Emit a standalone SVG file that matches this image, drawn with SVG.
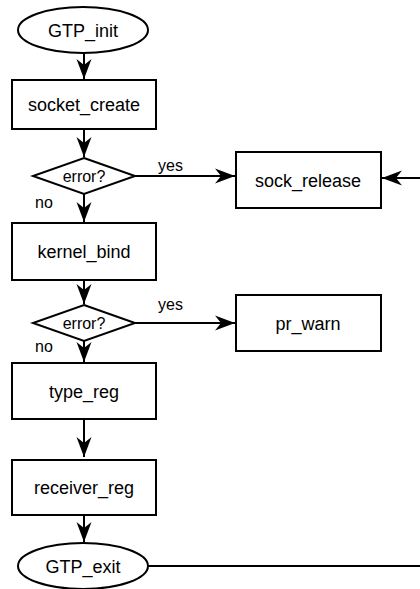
<svg xmlns="http://www.w3.org/2000/svg" width="420" height="589" viewBox="0 0 420 589">
<style>
.n{fill:#fff;stroke:#000;stroke-width:2}
.t{font-family:"Liberation Sans",Arial,sans-serif;font-size:18px;fill:#000;text-anchor:middle}
.d{font-family:"Liberation Sans",Arial,sans-serif;font-size:16px;fill:#000;text-anchor:middle}
.l{font-family:"Liberation Sans",Arial,sans-serif;font-size:16px;fill:#000}
.c{fill:none;stroke:#000;stroke-width:2}
</style>
<defs>
<marker id="ah" markerUnits="userSpaceOnUse" markerWidth="22" markerHeight="18" viewBox="0 -9 21 18" refX="20" refY="0" orient="auto">
<path d="M0,-7.5 L20,0 L0,7.5 L6,0 z" fill="#000"/>
</marker>
</defs>
<rect width="420" height="589" fill="#fff"/>
<g id="connectors">
<line class="c" x1="84" y1="53" x2="84" y2="79" marker-end="url(#ah)"/>
<line class="c" x1="84" y1="129" x2="84" y2="157" marker-end="url(#ah)"/>
<line class="c" x1="135" y1="176" x2="235" y2="176" marker-end="url(#ah)"/>
<line class="c" x1="425" y1="178" x2="382" y2="178" marker-end="url(#ah)"/>
<line class="c" x1="84" y1="194" x2="84" y2="222" marker-end="url(#ah)"/>
<line class="c" x1="84" y1="280" x2="84" y2="304" marker-end="url(#ah)"/>
<line class="c" x1="135" y1="323" x2="235" y2="323" marker-end="url(#ah)"/>
<line class="c" x1="84" y1="341" x2="84" y2="362" marker-end="url(#ah)"/>
<line class="c" x1="84" y1="419" x2="84" y2="457" marker-end="url(#ah)"/>
<line class="c" x1="84" y1="515" x2="84" y2="542" marker-end="url(#ah)"/>
<line class="c" x1="148" y1="566" x2="425" y2="566"/>
<text class="l" x="158" y="171">yes</text>
<text class="l" x="35" y="208">no</text>
<text class="l" x="158" y="310">yes</text>
<text class="l" x="35" y="352">no</text>
</g>
<g id="GTP_init">
<ellipse class="n" cx="83" cy="30" rx="65" ry="23"/>
<text class="t" x="83" y="37">GTP_init</text>
</g>
<g id="socket_create">
<rect class="n" x="12" y="80" width="144" height="49"/>
<text class="t" x="84" y="111">socket_create</text>
</g>
<g id="error1">
<polygon class="n" points="84,158 135,176 84,194 33,176"/>
<text class="d" x="84" y="182">error?</text>
</g>
<g id="sock_release">
<rect class="n" x="236" y="152" width="145" height="56"/>
<text class="t" x="308" y="187">sock_release</text>
</g>
<g id="kernel_bind">
<rect class="n" x="12" y="223" width="144" height="57"/>
<text class="t" x="84" y="258">kernel_bind</text>
</g>
<g id="error2">
<polygon class="n" points="84,305 135,323 84,341 33,323"/>
<text class="d" x="84" y="329">error?</text>
</g>
<g id="pr_warn">
<rect class="n" x="236" y="295" width="145" height="56"/>
<text class="t" x="308" y="330">pr_warn</text>
</g>
<g id="type_reg">
<rect class="n" x="12" y="363" width="144" height="56"/>
<text class="t" x="84" y="398">type_reg</text>
</g>
<g id="receiver_reg">
<rect class="n" x="12" y="460" width="144" height="55"/>
<text class="t" x="84" y="494">receiver_reg</text>
</g>
<g id="GTP_exit">
<ellipse class="n" cx="83" cy="566" rx="65" ry="23"/>
<text class="t" x="83" y="573">GTP_exit</text>
</g>
</svg>
